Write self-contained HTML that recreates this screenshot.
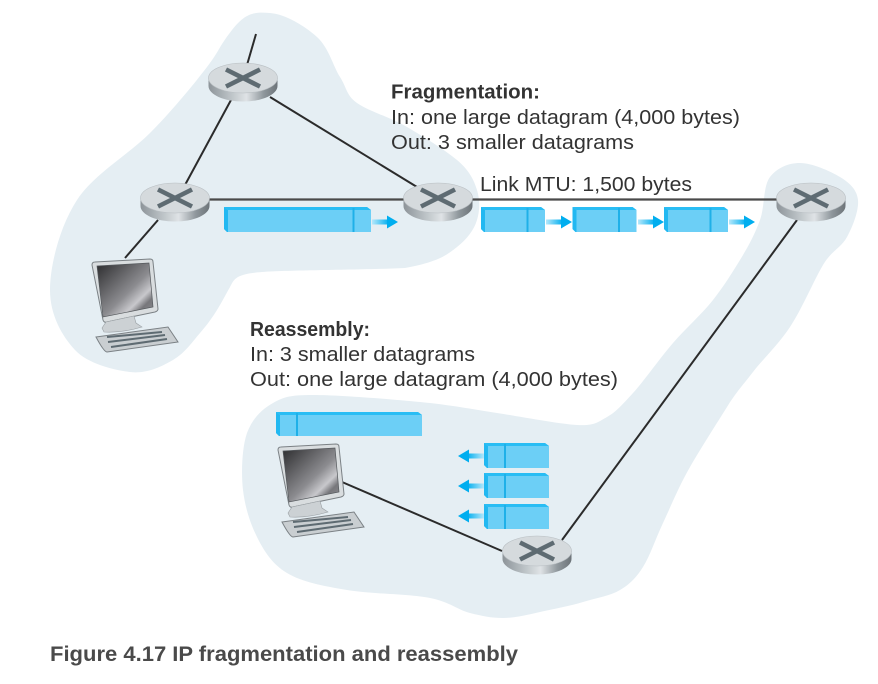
<!DOCTYPE html>
<html>
<head>
<meta charset="utf-8">
<style>
html,body{margin:0;padding:0;background:#fff;}
svg{display:block;filter:blur(.35px);}
text{font-family:"Liberation Sans",sans-serif;fill:#333;}
</style>
</head>
<body>
<svg width="878" height="684" viewBox="0 0 878 684" xmlns="http://www.w3.org/2000/svg">
<defs>
<linearGradient id="rs" x1="0" x2="1" y1="0" y2="0">
<stop offset="0" stop-color="#8d9499"/><stop offset=".3" stop-color="#b9c0c4"/>
<stop offset=".55" stop-color="#dfe3e6"/><stop offset=".8" stop-color="#8f979c"/><stop offset="1" stop-color="#6d7479"/>
</linearGradient>
<linearGradient id="scr" x1="0" y1="0" x2="1" y2="1">
<stop offset="0" stop-color="#2c2c2e"/><stop offset=".55" stop-color="#8c8c90"/>
<stop offset=".72" stop-color="#c8c8cc"/><stop offset=".82" stop-color="#77777b"/><stop offset="1" stop-color="#8e8e92"/>
</linearGradient>
<linearGradient id="tailR" x1="0" x2="1" y1="0" y2="0">
<stop offset="0" stop-color="#b5e8fb"/><stop offset="1" stop-color="#00aeef"/>
</linearGradient>
<linearGradient id="tailL" x1="1" x2="0" y1="0" y2="0">
<stop offset="0" stop-color="#b5e8fb"/><stop offset="1" stop-color="#00aeef"/>
</linearGradient>
<g id="router">
<path d="M-34.500 0V8A34.500 15.500 0 0 0 34.500 8V0Z" fill="url(#rs)"/>
<ellipse cx="0" cy="0" rx="34.500" ry="15" fill="#d5dadd" stroke="#b8bec2" stroke-width=".6"/>
<path d="M-17 -8.500L17 8.500M17 -8.500L-17 8.500" stroke="#5e6b72" stroke-width="4.600"/>
</g>
<g id="pc">
<path d="M0 5Q0 2 3 2L58 -1Q61 -1 61 2L66 49Q66 51 63 52L15 62Q12 63 11 60Z" fill="#d9dddf" stroke="#7b8185" stroke-width="1"/>
<path d="M5 6L57 3L61 47L11 57Z" fill="url(#scr)" stroke="#55595d" stroke-width=".7"/>
<path d="M10 68L14 62L42 56L44 63L50 67Q30 73 12 72Z" fill="#ccd1d4" stroke="#9aa0a4" stroke-width=".6"/>
<path d="M4 77L76 67L86 82L15 92Q12 92 4 77Z" fill="#c9ced1" stroke="#7b8185" stroke-width="1"/>
<path d="M15 77L70 72M16 82L73 75M19 87L75 79" stroke="#5e6b72" stroke-width="2" fill="none"/>
</g>
<g id="pr">
<path d="M0 0H60L64 3V25H3L0 22Z" fill="#6ccff6"/>
<path d="M0 0H60L64 3H4Z" fill="#29bdf4"/>
<path d="M0 0L4 3V25H3L0 22Z" fill="#22b8f1"/>
<rect x="45.500" y="1" width="2" height="24" fill="#1fb0e8"/>
</g>
<g id="pl">
<path d="M0 0H61L65 3V25H3L0 22Z" fill="#6ccff6"/>
<path d="M0 0H61L65 3H4Z" fill="#29bdf4"/>
<path d="M0 0L4 3V25H3L0 22Z" fill="#22b8f1"/>
<rect x="20" y="1" width="2" height="24" fill="#1fb0e8"/>
</g>
<g id="ar">
<rect x="0" y="-2.500" width="17" height="5" fill="url(#tailR)"/>
<path d="M15 -6.500L26 0L15 6.500Z" fill="#00aeef"/>
</g>
<g id="al">
<rect x="9" y="-2.500" width="17" height="5" fill="url(#tailL)"/>
<path d="M11 -6.500L0 0L11 6.500Z" fill="#00aeef"/>
</g>
</defs>

<path fill="#e5eef3" d="M270 13C285 14 305 26 317 37S333 66 340 77S346 95 357 103S390 117 407 127S445 150 457 160S474 180 477 190S480 210 477 220S467 239 457 247S438 262 405 268C360 270 290 270 262 272S234 280 230 287S222 302 217 310S207 325 200 333S185 353 173 360S146 374 130 372S88 364 75 350S50 315 50 290S60 226 77 200S128 155 150 133S194 84 207 67S218 48 232 30S255 12 270 13Z"/>
<path fill="#e5eef3" d="M313 395C338 395 389 399 420 402S471 409 497 413S559 424 577 425S598 422 607 417S622 405 633 393S660 358 673 343S702 314 713 300S732 273 740 260S755 234 760 220S763 186 770 177S788 163 800 163S830 171 840 177S857 190 858 200S853 226 847 237S832 250 823 265S802 309 790 327S763 359 753 372S737 391 727 407S701 448 690 467S671 506 663 523S650 556 643 567S630 584 620 590S596 598 583 602S553 609 540 612S515 618 503 618S482 616 470 613S450 602 430 598S371 594 347 590S302 582 287 573S264 551 257 537S245 507 243 490S242 447 247 433S262 409 273 403S289 395 313 395Z"/>

<g stroke="#2b2b2b" stroke-width="2" fill="none">
<path d="M256 34L247 65"/>
<path d="M231 100L185 185"/>
<path d="M270 97L417 187"/>
<path d="M158 220L125 258"/>
<path d="M797 220L562 540"/>
<path d="M502 551L342 482"/>
</g>
<g stroke="#4a4a4a" stroke-width="2.200" fill="none">
<path d="M205 199.500H405"/>
<path d="M470 199.500H780"/>
</g>

<use href="#router" x="243" y="78"/>
<use href="#router" x="175" y="198"/>
<use href="#router" x="438" y="198"/>
<use href="#router" x="811" y="198"/>
<use href="#router" x="537" y="551"/>

<use href="#pc" x="92" y="260"/>
<use href="#pc" x="278" y="445"/>

<g>
<path d="M224 207H367L371 210V232H227L224 229Z" fill="#6ccff6"/>
<path d="M224 207H367L371 210H228Z" fill="#29bdf4"/>
<path d="M224 207L228 210V232H227L224 229Z" fill="#22b8f1"/>
<rect x="352.500" y="208" width="2" height="24" fill="#1fb0e8"/>
</g>
<use href="#ar" x="372" y="222"/>

<use href="#pr" x="481" y="207"/>
<use href="#ar" x="546" y="222"/>
<use href="#pr" x="572.500" y="207"/>
<use href="#ar" x="638" y="222"/>
<use href="#pr" x="664" y="207"/>
<use href="#ar" x="729" y="222"/>

<g>
<path d="M276 412H418L422 415V436H279L276 433Z" fill="#6ccff6"/>
<path d="M276 412H418L422 415H280Z" fill="#29bdf4"/>
<path d="M276 412L280 415V436H279L276 433Z" fill="#22b8f1"/>
<rect x="296" y="413" width="2" height="23" fill="#1fb0e8"/>
</g>

<use href="#pl" x="484" y="443"/>
<use href="#al" x="458" y="456"/>
<use href="#pl" x="484" y="473"/>
<use href="#al" x="458" y="486"/>
<use href="#pl" x="484" y="504"/>
<use href="#al" x="458" y="516"/>

<text x="391" y="98.500" font-size="20.500" font-weight="bold" textLength="149" lengthAdjust="spacingAndGlyphs">Fragmentation:</text>
<text x="391" y="124" font-size="20.500" textLength="349" lengthAdjust="spacingAndGlyphs">In: one large datagram (4,000 bytes)</text>
<text x="391" y="149" font-size="20.500" textLength="243" lengthAdjust="spacingAndGlyphs">Out: 3 smaller datagrams</text>
<text x="480" y="191" font-size="20.500" textLength="212" lengthAdjust="spacingAndGlyphs">Link MTU: 1,500 bytes</text>
<text x="250" y="336" font-size="20.500" font-weight="bold" textLength="120" lengthAdjust="spacingAndGlyphs">Reassembly:</text>
<text x="250" y="361" font-size="20.500" textLength="225" lengthAdjust="spacingAndGlyphs">In: 3 smaller datagrams</text>
<text x="250" y="386" font-size="20.500" textLength="368" lengthAdjust="spacingAndGlyphs">Out: one large datagram (4,000 bytes)</text>
<text x="50" y="661" font-size="21" font-weight="bold" style="fill:#4a4a4a" textLength="468" lengthAdjust="spacingAndGlyphs">Figure 4.17 IP fragmentation and reassembly</text>
</svg>
</body>
</html>
